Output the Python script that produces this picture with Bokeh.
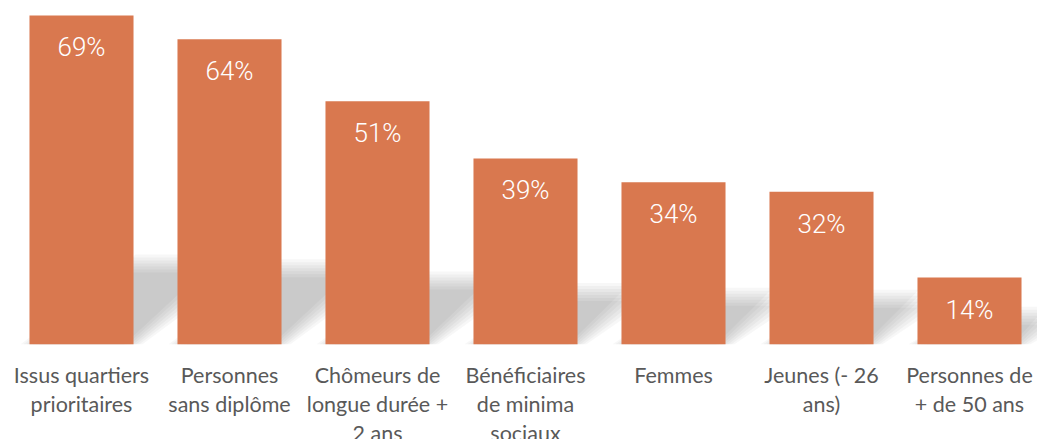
from bokeh.plotting import figure
from bokeh.models import Range1d, ColumnDataSource
from bokeh.core.properties import value
from bokeh.embed import file_html
from bokeh.resources import INLINE

# ---- data ----
categories = [
    "Issus quartiers\nprioritaires",
    "Personnes\nsans diplôme",
    "Chômeurs de\nlongue durée +\n2 ans",
    "Bénéficiaires\nde minima\nsociaux",
    "Femmes",
    "Jeunes (- 26\nans)",
    "Personnes de\n+ de 50 ans",
]
values = [69, 64, 51, 39, 34, 32, 14]
value_labels = ["69%", "64%", "51%", "39%", "34%", "32%", "14%"]

# ---- layout constants ----
W, H = 1037, 439
# page coords: category i centre at 81 + 148*i, baseline y 343.7, 4.764 px per %
XMIN, XMAX = (0 - 81) / 148, (W - 81) / 148
YMIN, YMAX = (343.7 - H) / 4.764, 343.7 / 4.764
px_x = W / (XMAX - XMIN)
px_y = H / (YMAX - YMIN)
BAR_W = 0.703
BAR_COLOR = "#D9784F"

p = figure(width=W, height=H, output_backend="svg", toolbar_location=None,
           x_range=Range1d(XMIN, XMAX), y_range=Range1d(YMIN, YMAX),
           min_border=0, min_border_left=0, min_border_right=0,
           min_border_top=0, min_border_bottom=0)
p.axis.visible = False
p.grid.visible = False
p.outline_line_color = None
p.background_fill_color = "white"
p.border_fill_color = "white"

xs = list(range(len(values)))

# ---- perspective shadows (blurred via stacked translucent layers) ----
for spread in [-9, -6, -3, 0, 3, 6, 9]:
    pxs, pys = [], []
    for i, v in zip(xs, values):
        h_px = v * px_y
        s_px = 0.2 * h_px + 15
        shift = 1.2 * s_px / px_x
        s = (s_px - spread) / px_y
        e = spread / px_x
        x0 = i - BAR_W / 2 - e
        x1 = i + BAR_W / 2 + e
        pxs.append([x0, x1, x1 + shift, x0 + shift])
        pys.append([0, 0, s, s])
    p.patches(pxs, pys, fill_color="black", fill_alpha=0.032, line_color=None)

# ---- bars ----
src = ColumnDataSource(dict(x=xs, top=values, lab=value_labels,
                            ly=[v - 32 / px_y for v in values]))
p.vbar(x="x", top="top", bottom=0, width=BAR_W, source=src,
       fill_color=BAR_COLOR, line_color=None)

# ---- value labels ----
p.text(x="x", y="ly", text="lab", source=src, text_color="white",
       text_font=value("'Roboto Light', 'Open Sans Light', Roboto"),
       text_font_size="26px",
       text_align="center", text_baseline="middle")

# ---- category labels ----
cx, cy, ct = [], [], []
for i, c in enumerate(categories):
    for j, line in enumerate(c.split("\n")):
        cx.append(i)
        cy.append(-(31 + 29 * j) / px_y)
        ct.append(line)
p.text(x=cx, y=cy, text=ct, text_color="#595959",
       text_font=value("Lato"), text_font_size="21.5px",
       text_align="center", text_baseline="middle")

open("out.html", "w").write(file_html(p, INLINE))
